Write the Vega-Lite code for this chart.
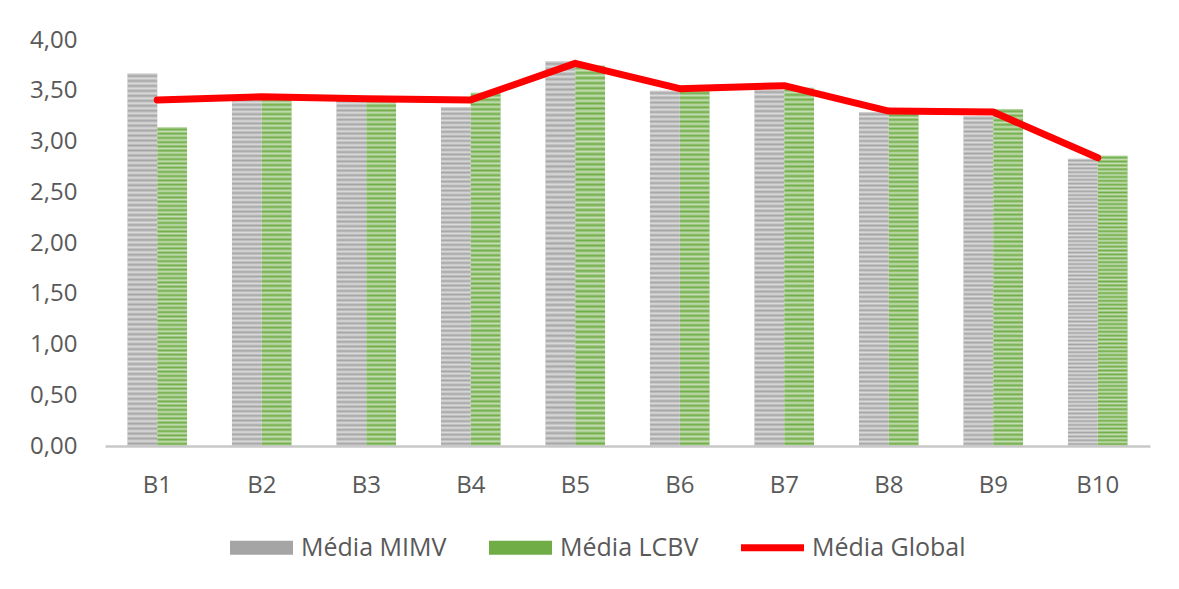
{
  "$schema": "https://vega.github.io/schema/vega-lite/v6.json",
  "autosize": "none",
  "width": 1045,
  "height": 406,
  "padding": {"left": 105, "top": 40, "right": 29, "bottom": 143},
  "background": "white",
  "config": {
    "view": {"stroke": null},
    "font": "Open Sans"
  },
  "data": {
    "values": [
      {"bloco": "B1", "serie": "Média MIMV", "media": 3.67},
      {"bloco": "B1", "serie": "Média LCBV", "media": 3.14},
      {"bloco": "B1", "serie": "Média Global", "media": 3.41},
      {"bloco": "B2", "serie": "Média MIMV", "media": 3.43},
      {"bloco": "B2", "serie": "Média LCBV", "media": 3.43},
      {"bloco": "B2", "serie": "Média Global", "media": 3.44},
      {"bloco": "B3", "serie": "Média MIMV", "media": 3.42},
      {"bloco": "B3", "serie": "Média LCBV", "media": 3.42},
      {"bloco": "B3", "serie": "Média Global", "media": 3.42},
      {"bloco": "B4", "serie": "Média MIMV", "media": 3.34},
      {"bloco": "B4", "serie": "Média LCBV", "media": 3.48},
      {"bloco": "B4", "serie": "Média Global", "media": 3.41},
      {"bloco": "B5", "serie": "Média MIMV", "media": 3.79},
      {"bloco": "B5", "serie": "Média LCBV", "media": 3.75},
      {"bloco": "B5", "serie": "Média Global", "media": 3.77},
      {"bloco": "B6", "serie": "Média MIMV", "media": 3.50},
      {"bloco": "B6", "serie": "Média LCBV", "media": 3.50},
      {"bloco": "B6", "serie": "Média Global", "media": 3.52},
      {"bloco": "B7", "serie": "Média MIMV", "media": 3.51},
      {"bloco": "B7", "serie": "Média LCBV", "media": 3.53},
      {"bloco": "B7", "serie": "Média Global", "media": 3.55},
      {"bloco": "B8", "serie": "Média MIMV", "media": 3.29},
      {"bloco": "B8", "serie": "Média LCBV", "media": 3.28},
      {"bloco": "B8", "serie": "Média Global", "media": 3.30},
      {"bloco": "B9", "serie": "Média MIMV", "media": 3.25},
      {"bloco": "B9", "serie": "Média LCBV", "media": 3.32},
      {"bloco": "B9", "serie": "Média Global", "media": 3.29},
      {"bloco": "B10", "serie": "Média MIMV", "media": 2.83},
      {"bloco": "B10", "serie": "Média LCBV", "media": 2.86},
      {"bloco": "B10", "serie": "Média Global", "media": 2.84}
    ]
  },
  "encoding": {
    "x": {
      "field": "bloco",
      "type": "nominal",
      "sort": ["B1","B2","B3","B4","B5","B6","B7","B8","B9","B10"],
      "scale": {"paddingInner": 0.43, "paddingOuter": 0.215},
      "axis": {
        "title": null,
        "labelAngle": 0,
        "ticks": false,
        "domainColor": "#c8c8c8",
        "domainWidth": 2.5,
        "labelFontSize": 24,
        "labelColor": "#595959",
        "labelPadding": 27,
        "zindex": 3
      }
    },
    "y": {
      "field": "media",
      "type": "quantitative",
      "scale": {"domain": [0, 4], "nice": false},
      "axis": {
        "title": null,
        "values": [0, 0.5, 1, 1.5, 2, 2.5, 3, 3.5, 4],
        "labelExpr": "replace(format(datum.value, '.2f'), '.', ',')",
        "grid": false,
        "domain": false,
        "ticks": false,
        "labelFontSize": 24,
        "labelColor": "#595959",
        "labelPadding": 28
      }
    }
  },
  "layer": [
    {
      "transform": [{"filter": "datum.serie !== 'Média Global'"}],
      "mark": {"type": "bar"},
      "encoding": {
        "xOffset": {
          "field": "serie",
          "type": "nominal",
          "sort": ["Média MIMV", "Média LCBV"],
          "scale": {"paddingInner": 0}
        },
        "color": {
          "field": "serie",
          "type": "nominal",
          "scale": {
            "domain": ["Média MIMV", "Média LCBV", "Média Global"],
            "range": ["#a5a5a5", "#70ad47", "#ff0000"]
          },
          "legend": {
            "title": null,
            "orient": "none",
            "direction": "horizontal",
            "legendX": 125,
            "legendY": 476,
            "padding": 0,
            "columnPadding": 42,
            "labelFontSize": 25,
            "labelColor": "#595959",
            "labelOffset": 8,
            "symbolSize": 3969,
            "symbolStrokeWidth": 0,
            "symbolOpacity": 1,
            "symbolType": {"expr": "datum.label === 'Média Global' ? 'M-1,-0.11H1V0.11H-1Z' : 'M-1,-0.222H1V0.222H-1Z'"}
          }
        }
      }
    },
    {
      "transform": [{"filter": "datum.serie !== 'Média Global'"}],
      "mark": {
        "type": "bar",
        "fill": {
          "gradient": "linear", "x1": 0, "y1": 0, "x2": 0, "y2": 1,
          "stops": [
            {"offset": 0, "color": "rgba(255,255,255,0.6)"},
            {"offset": 0.0067, "color": "rgba(255,255,255,0)"},
            {"offset": 0.0133, "color": "rgba(255,255,255,0.6)"},
            {"offset": 0.02, "color": "rgba(255,255,255,0)"},
            {"offset": 0.0267, "color": "rgba(255,255,255,0.6)"},
            {"offset": 0.0333, "color": "rgba(255,255,255,0)"},
            {"offset": 0.04, "color": "rgba(255,255,255,0.6)"},
            {"offset": 0.0467, "color": "rgba(255,255,255,0)"},
            {"offset": 0.0533, "color": "rgba(255,255,255,0.6)"},
            {"offset": 0.06, "color": "rgba(255,255,255,0)"},
            {"offset": 0.0667, "color": "rgba(255,255,255,0.6)"},
            {"offset": 0.0733, "color": "rgba(255,255,255,0)"},
            {"offset": 0.08, "color": "rgba(255,255,255,0.6)"},
            {"offset": 0.0867, "color": "rgba(255,255,255,0)"},
            {"offset": 0.0933, "color": "rgba(255,255,255,0.6)"},
            {"offset": 0.1, "color": "rgba(255,255,255,0)"},
            {"offset": 0.1067, "color": "rgba(255,255,255,0.6)"},
            {"offset": 0.1133, "color": "rgba(255,255,255,0)"},
            {"offset": 0.12, "color": "rgba(255,255,255,0.6)"},
            {"offset": 0.1267, "color": "rgba(255,255,255,0)"},
            {"offset": 0.1333, "color": "rgba(255,255,255,0.6)"},
            {"offset": 0.14, "color": "rgba(255,255,255,0)"},
            {"offset": 0.1467, "color": "rgba(255,255,255,0.6)"},
            {"offset": 0.1533, "color": "rgba(255,255,255,0)"},
            {"offset": 0.16, "color": "rgba(255,255,255,0.6)"},
            {"offset": 0.1667, "color": "rgba(255,255,255,0)"},
            {"offset": 0.1733, "color": "rgba(255,255,255,0.6)"},
            {"offset": 0.18, "color": "rgba(255,255,255,0)"},
            {"offset": 0.1867, "color": "rgba(255,255,255,0.6)"},
            {"offset": 0.1933, "color": "rgba(255,255,255,0)"},
            {"offset": 0.2, "color": "rgba(255,255,255,0.6)"},
            {"offset": 0.2067, "color": "rgba(255,255,255,0)"},
            {"offset": 0.2133, "color": "rgba(255,255,255,0.6)"},
            {"offset": 0.22, "color": "rgba(255,255,255,0)"},
            {"offset": 0.2267, "color": "rgba(255,255,255,0.6)"},
            {"offset": 0.2333, "color": "rgba(255,255,255,0)"},
            {"offset": 0.24, "color": "rgba(255,255,255,0.6)"},
            {"offset": 0.2467, "color": "rgba(255,255,255,0)"},
            {"offset": 0.2533, "color": "rgba(255,255,255,0.6)"},
            {"offset": 0.26, "color": "rgba(255,255,255,0)"},
            {"offset": 0.2667, "color": "rgba(255,255,255,0.6)"},
            {"offset": 0.2733, "color": "rgba(255,255,255,0)"},
            {"offset": 0.28, "color": "rgba(255,255,255,0.6)"},
            {"offset": 0.2867, "color": "rgba(255,255,255,0)"},
            {"offset": 0.2933, "color": "rgba(255,255,255,0.6)"},
            {"offset": 0.3, "color": "rgba(255,255,255,0)"},
            {"offset": 0.3067, "color": "rgba(255,255,255,0.6)"},
            {"offset": 0.3133, "color": "rgba(255,255,255,0)"},
            {"offset": 0.32, "color": "rgba(255,255,255,0.6)"},
            {"offset": 0.3267, "color": "rgba(255,255,255,0)"},
            {"offset": 0.3333, "color": "rgba(255,255,255,0.6)"},
            {"offset": 0.34, "color": "rgba(255,255,255,0)"},
            {"offset": 0.3467, "color": "rgba(255,255,255,0.6)"},
            {"offset": 0.3533, "color": "rgba(255,255,255,0)"},
            {"offset": 0.36, "color": "rgba(255,255,255,0.6)"},
            {"offset": 0.3667, "color": "rgba(255,255,255,0)"},
            {"offset": 0.3733, "color": "rgba(255,255,255,0.6)"},
            {"offset": 0.38, "color": "rgba(255,255,255,0)"},
            {"offset": 0.3867, "color": "rgba(255,255,255,0.6)"},
            {"offset": 0.3933, "color": "rgba(255,255,255,0)"},
            {"offset": 0.4, "color": "rgba(255,255,255,0.6)"},
            {"offset": 0.4067, "color": "rgba(255,255,255,0)"},
            {"offset": 0.4133, "color": "rgba(255,255,255,0.6)"},
            {"offset": 0.42, "color": "rgba(255,255,255,0)"},
            {"offset": 0.4267, "color": "rgba(255,255,255,0.6)"},
            {"offset": 0.4333, "color": "rgba(255,255,255,0)"},
            {"offset": 0.44, "color": "rgba(255,255,255,0.6)"},
            {"offset": 0.4467, "color": "rgba(255,255,255,0)"},
            {"offset": 0.4533, "color": "rgba(255,255,255,0.6)"},
            {"offset": 0.46, "color": "rgba(255,255,255,0)"},
            {"offset": 0.4667, "color": "rgba(255,255,255,0.6)"},
            {"offset": 0.4733, "color": "rgba(255,255,255,0)"},
            {"offset": 0.48, "color": "rgba(255,255,255,0.6)"},
            {"offset": 0.4867, "color": "rgba(255,255,255,0)"},
            {"offset": 0.4933, "color": "rgba(255,255,255,0.6)"},
            {"offset": 0.5, "color": "rgba(255,255,255,0)"},
            {"offset": 0.5067, "color": "rgba(255,255,255,0.6)"},
            {"offset": 0.5133, "color": "rgba(255,255,255,0)"},
            {"offset": 0.52, "color": "rgba(255,255,255,0.6)"},
            {"offset": 0.5267, "color": "rgba(255,255,255,0)"},
            {"offset": 0.5333, "color": "rgba(255,255,255,0.6)"},
            {"offset": 0.54, "color": "rgba(255,255,255,0)"},
            {"offset": 0.5467, "color": "rgba(255,255,255,0.6)"},
            {"offset": 0.5533, "color": "rgba(255,255,255,0)"},
            {"offset": 0.56, "color": "rgba(255,255,255,0.6)"},
            {"offset": 0.5667, "color": "rgba(255,255,255,0)"},
            {"offset": 0.5733, "color": "rgba(255,255,255,0.6)"},
            {"offset": 0.58, "color": "rgba(255,255,255,0)"},
            {"offset": 0.5867, "color": "rgba(255,255,255,0.6)"},
            {"offset": 0.5933, "color": "rgba(255,255,255,0)"},
            {"offset": 0.6, "color": "rgba(255,255,255,0.6)"},
            {"offset": 0.6067, "color": "rgba(255,255,255,0)"},
            {"offset": 0.6133, "color": "rgba(255,255,255,0.6)"},
            {"offset": 0.62, "color": "rgba(255,255,255,0)"},
            {"offset": 0.6267, "color": "rgba(255,255,255,0.6)"},
            {"offset": 0.6333, "color": "rgba(255,255,255,0)"},
            {"offset": 0.64, "color": "rgba(255,255,255,0.6)"},
            {"offset": 0.6467, "color": "rgba(255,255,255,0)"},
            {"offset": 0.6533, "color": "rgba(255,255,255,0.6)"},
            {"offset": 0.66, "color": "rgba(255,255,255,0)"},
            {"offset": 0.6667, "color": "rgba(255,255,255,0.6)"},
            {"offset": 0.6733, "color": "rgba(255,255,255,0)"},
            {"offset": 0.68, "color": "rgba(255,255,255,0.6)"},
            {"offset": 0.6867, "color": "rgba(255,255,255,0)"},
            {"offset": 0.6933, "color": "rgba(255,255,255,0.6)"},
            {"offset": 0.7, "color": "rgba(255,255,255,0)"},
            {"offset": 0.7067, "color": "rgba(255,255,255,0.6)"},
            {"offset": 0.7133, "color": "rgba(255,255,255,0)"},
            {"offset": 0.72, "color": "rgba(255,255,255,0.6)"},
            {"offset": 0.7267, "color": "rgba(255,255,255,0)"},
            {"offset": 0.7333, "color": "rgba(255,255,255,0.6)"},
            {"offset": 0.74, "color": "rgba(255,255,255,0)"},
            {"offset": 0.7467, "color": "rgba(255,255,255,0.6)"},
            {"offset": 0.7533, "color": "rgba(255,255,255,0)"},
            {"offset": 0.76, "color": "rgba(255,255,255,0.6)"},
            {"offset": 0.7667, "color": "rgba(255,255,255,0)"},
            {"offset": 0.7733, "color": "rgba(255,255,255,0.6)"},
            {"offset": 0.78, "color": "rgba(255,255,255,0)"},
            {"offset": 0.7867, "color": "rgba(255,255,255,0.6)"},
            {"offset": 0.7933, "color": "rgba(255,255,255,0)"},
            {"offset": 0.8, "color": "rgba(255,255,255,0.6)"},
            {"offset": 0.8067, "color": "rgba(255,255,255,0)"},
            {"offset": 0.8133, "color": "rgba(255,255,255,0.6)"},
            {"offset": 0.82, "color": "rgba(255,255,255,0)"},
            {"offset": 0.8267, "color": "rgba(255,255,255,0.6)"},
            {"offset": 0.8333, "color": "rgba(255,255,255,0)"},
            {"offset": 0.84, "color": "rgba(255,255,255,0.6)"},
            {"offset": 0.8467, "color": "rgba(255,255,255,0)"},
            {"offset": 0.8533, "color": "rgba(255,255,255,0.6)"},
            {"offset": 0.86, "color": "rgba(255,255,255,0)"},
            {"offset": 0.8667, "color": "rgba(255,255,255,0.6)"},
            {"offset": 0.8733, "color": "rgba(255,255,255,0)"},
            {"offset": 0.88, "color": "rgba(255,255,255,0.6)"},
            {"offset": 0.8867, "color": "rgba(255,255,255,0)"},
            {"offset": 0.8933, "color": "rgba(255,255,255,0.6)"},
            {"offset": 0.9, "color": "rgba(255,255,255,0)"},
            {"offset": 0.9067, "color": "rgba(255,255,255,0.6)"},
            {"offset": 0.9133, "color": "rgba(255,255,255,0)"},
            {"offset": 0.92, "color": "rgba(255,255,255,0.6)"},
            {"offset": 0.9267, "color": "rgba(255,255,255,0)"},
            {"offset": 0.9333, "color": "rgba(255,255,255,0.6)"},
            {"offset": 0.94, "color": "rgba(255,255,255,0)"},
            {"offset": 0.9467, "color": "rgba(255,255,255,0.6)"},
            {"offset": 0.9533, "color": "rgba(255,255,255,0)"},
            {"offset": 0.96, "color": "rgba(255,255,255,0.6)"},
            {"offset": 0.9667, "color": "rgba(255,255,255,0)"},
            {"offset": 0.9733, "color": "rgba(255,255,255,0.6)"},
            {"offset": 0.98, "color": "rgba(255,255,255,0)"},
            {"offset": 0.9867, "color": "rgba(255,255,255,0.6)"},
            {"offset": 0.9933, "color": "rgba(255,255,255,0)"},
            {"offset": 1, "color": "rgba(255,255,255,0.6)"}
          ]
        }
      },
      "encoding": {
        "xOffset": {
          "field": "serie",
          "type": "nominal",
          "sort": ["Média MIMV", "Média LCBV"],
          "scale": {"paddingInner": 0}
        }
      }
    },
    {
      "transform": [{"filter": "datum.serie === 'Média Global'"}],
      "mark": {"type": "line", "strokeWidth": 7, "strokeCap": "round", "strokeJoin": "round"},
      "encoding": {
        "color": {"field": "serie", "type": "nominal"}
      }
    }
  ]
}
